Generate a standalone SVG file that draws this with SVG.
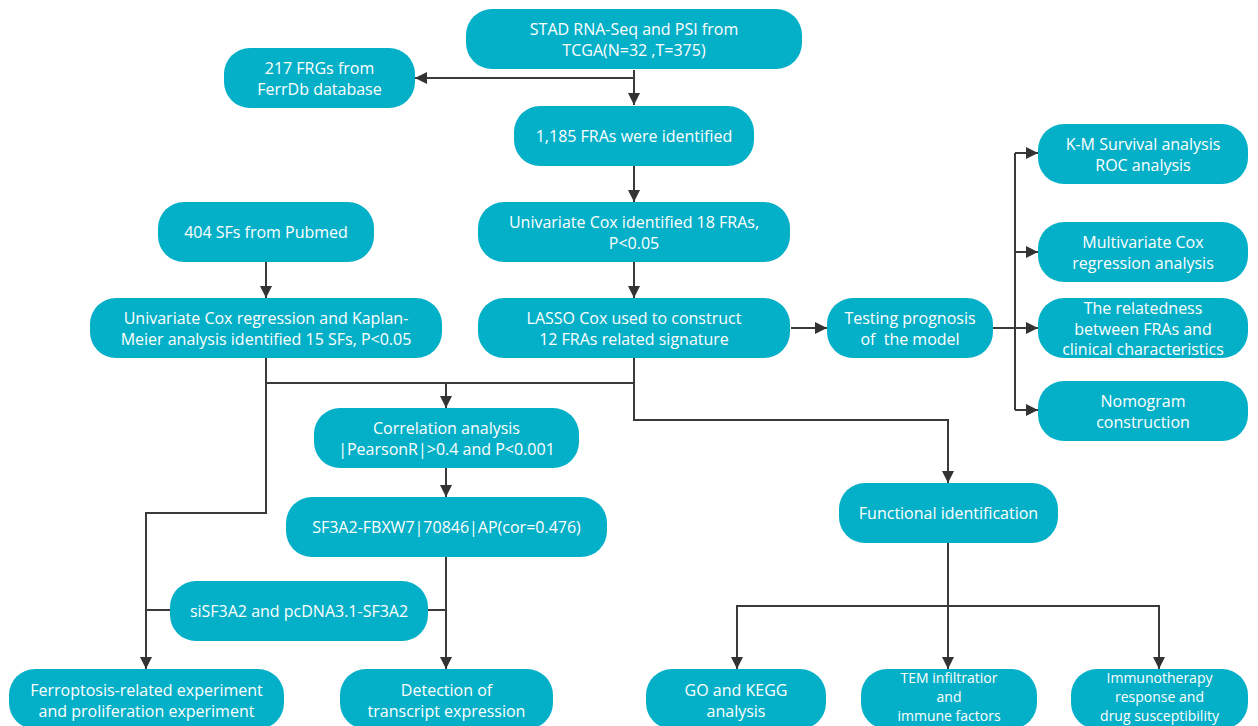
<svg xmlns="http://www.w3.org/2000/svg" width="1258" height="726" viewBox="0 0 1258 726">
<defs>
<style>
.n{fill:#04b0c8;}
.t{fill:#ffffff;font-family:"Open Sans","Noto Sans",sans-serif;font-size:16px;text-anchor:middle;dominant-baseline:central;}
.s{font-size:14px;}
.c{fill:none;stroke:#3a3a3a;stroke-width:2;}
.a{marker-end:url(#ah);}
</style>
<marker id="ah" viewBox="0 0 10 10" refX="10" refY="5" markerWidth="12" markerHeight="12" markerUnits="userSpaceOnUse" orient="auto">
<path d="M0,0 L10,5 L0,10 z" fill="#333333"/>
</marker>
</defs>
<rect width="1258" height="726" fill="#ffffff"/>
<g id="connectors">
<path class="c a" d="M634 70 V105"/>
<path class="c a" d="M634 78 H415"/>
<path class="c a" d="M634 166 V202"/>
<path class="c a" d="M634 262 V298"/>
<path class="c a" d="M266 262 V298"/>
<path class="c a" d="M791 328 H827"/>
<path class="c" d="M993 328 H1015 M1015 153 V410"/>
<path class="c a" d="M1015 153 H1038"/>
<path class="c a" d="M1015 252 H1038"/>
<path class="c a" d="M1015 328 H1038"/>
<path class="c a" d="M1015 410 H1038"/>
<path class="c" d="M266 358 V383 H634"/>
<path class="c a" d="M634 358 V420 H948 V483"/>
<path class="c a" d="M446 383 V408"/>
<path class="c a" d="M446 468 V497"/>
<path class="c a" d="M446 557 V669"/>
<path class="c" d="M428 610 H446"/>
<path class="c a" d="M266 383 V513 H146 V669"/>
<path class="c" d="M146 610 H170"/>
<path class="c" d="M948 543 V606"/>
<path class="c a" d="M948 606 V669"/>
<path class="c a" d="M948 606 H737 V669"/>
<path class="c a" d="M948 606 H1159 V669"/>
</g>
<g id="n-stad"><rect class="n" x="466" y="9" width="336" height="60" rx="26"/><text class="t" x="634" y="28.5">STAD RNA-Seq and PSI from</text><text class="t" x="634" y="49.5">TCGA(N=32 ,T=375)</text></g>
<g id="n-frg"><rect class="n" x="224" y="48" width="191" height="60" rx="26"/><text class="t" x="319.5" y="67.5">217 FRGs from</text><text class="t" x="319.5" y="88.5">FerrDb database</text></g>
<g id="n-fra"><rect class="n" x="514" y="106" width="240" height="60" rx="26"/><text class="t" x="634" y="136">1,185 FRAs were identified</text></g>
<g id="n-univ18"><rect class="n" x="478" y="202" width="312" height="60" rx="26"/><text class="t" x="634" y="221.5">Univariate Cox identified 18 FRAs,</text><text class="t" x="634" y="242.5">P&lt;0.05</text></g>
<g id="n-lasso"><rect class="n" x="478" y="298" width="312" height="60" rx="26"/><text class="t" x="634" y="317.5">LASSO Cox used to construct</text><text class="t" x="634" y="338.5">12 FRAs related signature</text></g>
<g id="n-sf404"><rect class="n" x="158" y="202" width="216" height="60" rx="26"/><text class="t" x="266" y="232">404 SFs from Pubmed</text></g>
<g id="n-univsf"><rect class="n" x="90" y="298" width="352" height="60" rx="26"/><text class="t" x="266" y="317.5">Univariate Cox regression and Kaplan-</text><text class="t" x="266" y="338.5">Meier analysis identified 15 SFs, P&lt;0.05</text></g>
<g id="n-testing"><rect class="n" x="827" y="298" width="166" height="60" rx="26"/><text class="t" x="910" y="317.5">Testing prognosis</text><text class="t" x="910" y="338.5" xml:space="preserve">of  the model</text></g>
<g id="n-km"><rect class="n" x="1038" y="124" width="210" height="60" rx="26"/><text class="t" x="1143" y="143.5">K-M Survival analysis</text><text class="t" x="1143" y="164.5">ROC analysis</text></g>
<g id="n-multi"><rect class="n" x="1038" y="222" width="210" height="60" rx="26"/><text class="t" x="1143" y="241.5">Multivariate Cox</text><text class="t" x="1143" y="262.5">regression analysis</text></g>
<g id="n-related"><rect class="n" x="1038" y="298" width="210" height="60" rx="26"/><text class="t" x="1143" y="308">The relatedness</text><text class="t" x="1143" y="328.5">between FRAs and</text><text class="t" x="1143" y="349">clinical characteristics</text></g>
<g id="n-nomo"><rect class="n" x="1038" y="381" width="210" height="60" rx="26"/><text class="t" x="1143" y="400.5">Nomogram</text><text class="t" x="1143" y="421.5">construction</text></g>
<g id="n-corr"><rect class="n" x="314" y="408" width="265" height="60" rx="26"/><text class="t" x="446.5" y="427.5">Correlation analysis</text><text class="t" x="446.5" y="448.5">|PearsonR|&gt;0.4 and P&lt;0.001</text></g>
<g id="n-sf3a2"><rect class="n" x="286" y="497" width="321" height="60" rx="26"/><text class="t" x="446.5" y="527">SF3A2-FBXW7|70846|AP(cor=0.476)</text></g>
<g id="n-sisf3a2"><rect class="n" x="170" y="581" width="258" height="60" rx="26"/><text class="t" x="299" y="611">siSF3A2 and pcDNA3.1-SF3A2</text></g>
<g id="n-ferro"><rect class="n" x="9" y="669" width="275" height="60" rx="26"/><text class="t" x="146.5" y="689.5">Ferroptosis-related experiment</text><text class="t" x="146.5" y="710.5">and proliferation experiment</text></g>
<g id="n-detect"><rect class="n" x="340" y="669" width="213" height="60" rx="26"/><text class="t" x="446.5" y="689.5">Detection of</text><text class="t" x="446.5" y="710.5">transcript expression</text></g>
<g id="n-func"><rect class="n" x="839" y="483" width="219" height="60" rx="26"/><text class="t" x="948.5" y="513">Functional identification</text></g>
<g id="n-go"><rect class="n" x="646" y="669" width="180" height="60" rx="26"/><text class="t" x="736" y="689.5">GO and KEGG</text><text class="t" x="736" y="710.5">analysis</text></g>
<g id="n-tem"><rect class="n" x="861" y="669" width="176" height="60" rx="26"/><text class="t s" x="949" y="677">TEM infiltratior</text><text class="t s" x="949" y="696">and</text><text class="t s" x="949" y="715">immune factors</text></g>
<g id="n-immuno"><rect class="n" x="1071" y="669" width="177" height="60" rx="26"/><text class="t s" x="1159.5" y="677">Immunotherapy</text><text class="t s" x="1159.5" y="696">response and</text><text class="t s" x="1159.5" y="715">drug susceptibility</text></g>
</svg>
